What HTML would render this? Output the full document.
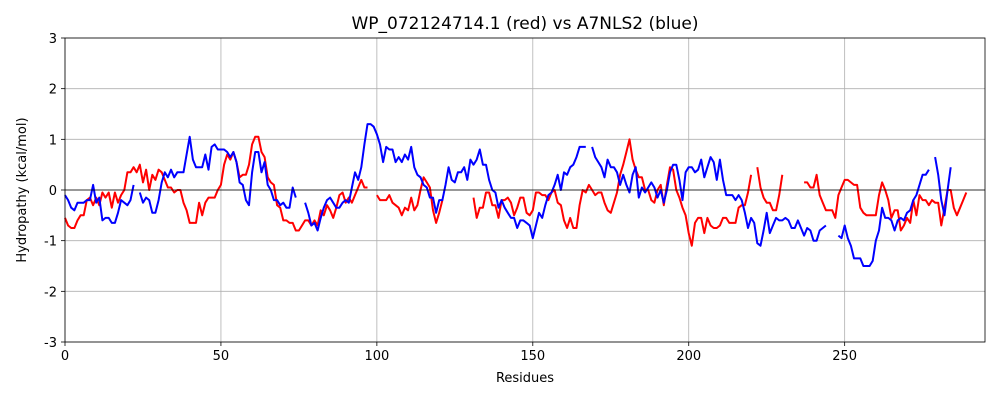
<!DOCTYPE html>
<html><head><meta charset="utf-8"><style>
html,body{margin:0;padding:0;background:#fff;}
svg{display:block;font-family:"DejaVu Sans","Liberation Sans",sans-serif;}
</style></head><body>
<svg id="chart" width="1000" height="400" viewBox="0 0 1000 400" xmlns="http://www.w3.org/2000/svg">
<text x="525" y="29" text-anchor="middle" font-size="17">WP_072124714.1 (red) vs A7NLS2 (blue)</text>
<text transform="translate(26,190) rotate(-90)" text-anchor="middle" font-size="13">Hydropathy (kcal/mol)</text>
<text x="525" y="382" text-anchor="middle" font-size="13">Residues</text>
<g id="grid"></g><g id="series"></g><g id="axes"></g>
</svg>
<script>
const xTicks=[0,50,100,150,200,250];
const yTicks=[-3,-2,-1,0,1,2,3];
const redValues=[-0.55,-0.7,-0.75,-0.75,-0.6,-0.5,-0.5,-0.2,-0.15,-0.3,-0.15,-0.3,-0.05,-0.15,-0.05,-0.35,-0.05,-0.25,-0.1,0,
0.35,0.35,0.45,0.35,0.5,0.15,0.4,0,0.3,0.2,0.4,0.35,0.2,0.05,0.05,-0.05,0,0,-0.25,-0.4,
-0.65,-0.65,-0.65,-0.25,-0.5,-0.25,-0.15,-0.15,-0.15,0,0.1,0.5,0.7,0.6,0.75,0.55,0.25,0.3,0.3,0.5,
0.9,1.05,1.05,0.75,0.65,0.25,0.15,0.1,-0.3,-0.35,-0.6,-0.6,-0.65,-0.65,-0.8,-0.8,-0.7,-0.6,-0.6,-0.7,
-0.6,-0.7,-0.4,-0.5,-0.3,-0.4,-0.55,-0.35,-0.1,-0.05,-0.25,-0.15,-0.25,-0.1,0.05,0.2,0.05,0.05,null,null,
-0.1,-0.2,-0.2,-0.2,-0.1,-0.25,-0.3,-0.35,-0.5,-0.35,-0.4,-0.15,-0.4,-0.3,0,0.25,0.15,0.05,-0.4,-0.65,
-0.45,-0.2,null,null,null,null,null,null,null,null,null,-0.15,-0.55,-0.35,-0.35,-0.05,-0.05,-0.3,-0.3,-0.55,
-0.2,-0.2,-0.15,-0.25,-0.5,-0.35,-0.15,-0.15,-0.45,-0.5,-0.4,-0.05,-0.05,-0.1,-0.1,-0.2,-0.05,0,-0.25,-0.3,
-0.6,-0.75,-0.55,-0.75,-0.75,-0.3,0,-0.05,0.1,0,-0.1,-0.05,-0.05,-0.25,-0.4,-0.45,-0.25,-0.05,0.3,0.5,
0.75,1.0,0.6,0.4,0.25,0.25,0,0,-0.2,-0.25,0,0.1,-0.3,0.1,0.45,0.4,0,-0.15,-0.35,-0.5,
-0.85,-1.1,-0.65,-0.55,-0.55,-0.85,-0.55,-0.7,-0.75,-0.75,-0.7,-0.55,-0.55,-0.65,-0.65,-0.65,-0.35,-0.3,-0.3,-0.05,
0.3,null,0.45,0.05,-0.15,-0.25,-0.25,-0.4,-0.4,-0.1,0.3,null,null,null,null,null,null,0.15,0.15,0.05,
0.05,0.3,-0.1,-0.25,-0.4,-0.4,-0.4,-0.55,-0.1,0.05,0.2,0.2,0.15,0.1,0.1,-0.35,-0.45,-0.5,-0.5,-0.5,
-0.5,-0.1,0.15,0,-0.2,-0.55,-0.4,-0.4,-0.8,-0.7,-0.55,-0.65,-0.2,-0.5,-0.1,-0.2,-0.2,-0.3,-0.2,-0.25,
-0.25,-0.7,-0.35,0,0,-0.35,-0.5,-0.35,-0.2,-0.05];
const blueValues=[-0.1,-0.2,-0.35,-0.4,-0.25,-0.25,-0.25,-0.2,-0.2,0.1,-0.25,-0.15,-0.6,-0.55,-0.55,-0.65,-0.65,-0.45,-0.2,-0.25,
-0.3,-0.2,0.1,null,-0.05,-0.25,-0.15,-0.2,-0.45,-0.45,-0.2,0.15,0.35,0.25,0.4,0.25,0.35,0.35,0.35,0.7,
1.05,0.6,0.45,0.45,0.45,0.7,0.4,0.85,0.9,0.8,0.8,0.8,0.75,0.65,0.75,0.55,0.15,0.1,-0.2,-0.3,
0.35,0.75,0.75,0.35,0.55,0.1,0,-0.2,-0.2,-0.3,-0.25,-0.35,-0.35,0.05,-0.15,null,null,-0.25,-0.45,-0.7,
-0.65,-0.8,-0.55,-0.35,-0.2,-0.15,-0.25,-0.35,-0.35,-0.25,-0.2,-0.25,0.05,0.35,0.2,0.45,0.9,1.3,1.3,1.25,
1.1,0.9,0.55,0.85,0.8,0.8,0.55,0.65,0.55,0.7,0.6,0.85,0.45,0.3,0.25,0.1,0.05,-0.15,-0.15,-0.45,
-0.2,-0.2,0.1,0.45,0.2,0.15,0.35,0.35,0.45,0.2,0.6,0.5,0.6,0.8,0.5,0.5,0.2,0,-0.05,-0.35,
-0.2,-0.35,-0.45,-0.55,-0.55,-0.75,-0.6,-0.6,-0.65,-0.7,-0.95,-0.7,-0.45,-0.55,-0.3,-0.1,-0.05,0.1,0.3,0,
0.35,0.3,0.45,0.5,0.65,0.85,0.85,0.85,null,0.85,0.65,0.55,0.45,0.25,0.6,0.45,0.45,0.35,0.1,0.3,
0.1,-0.05,0.3,0.45,-0.15,0.05,-0.05,0.05,0.15,0.05,-0.15,0,-0.25,0,0.35,0.5,0.5,0.2,-0.2,0.35,
0.45,0.45,0.35,0.4,0.6,0.25,0.45,0.65,0.55,0.2,0.6,0.2,-0.1,-0.1,-0.1,-0.2,-0.1,-0.2,-0.45,-0.75,
-0.55,-0.65,-1.05,-1.1,-0.8,-0.45,-0.85,-0.7,-0.55,-0.6,-0.6,-0.55,-0.6,-0.75,-0.75,-0.6,-0.75,-0.9,-0.75,-0.8,
-1.0,-1.0,-0.8,-0.75,-0.7,null,null,null,-0.9,-0.95,-0.7,-0.95,-1.1,-1.35,-1.35,-1.35,-1.5,-1.5,-1.5,-1.4,
-1.0,-0.8,-0.35,-0.55,-0.55,-0.6,-0.8,-0.6,-0.55,-0.6,-0.45,-0.4,-0.2,-0.1,0.1,0.3,0.3,0.4,null,0.65,
0.3,-0.2,-0.5,0,0.45];
const NS="http://www.w3.org/2000/svg";
const L=65,R=985,T=38,B=342,XMAX=295;
const sx=v=>L+(R-L)*v/XMAX;
const sy=v=>B-(B-T)*(v+3)/6;
function mk(tag,attrs,parent){const e=document.createElementNS(NS,tag);for(const k in attrs)e.setAttribute(k,attrs[k]);parent.appendChild(e);return e;}
const grid=document.getElementById('grid'),axes=document.getElementById('axes'),ser=document.getElementById('series');
xTicks.forEach(t=>{
 const g=mk('line',{x1:sx(t),x2:sx(t),y1:T,y2:B,stroke:'#b0b0b0','stroke-width':0.8},grid);
 
 
 mk('line',{x1:sx(t),x2:sx(t),y1:B,y2:B+4,stroke:'#000','stroke-width':0.8},axes);
 const lb=mk('text',{x:sx(t),y:B+18,'text-anchor':'middle','font-size':13},axes);
 lb.textContent=t;
 
 
});
yTicks.forEach(t=>{
 const g=mk('line',{x1:L,x2:R,y1:sy(t),y2:sy(t),stroke:'#b0b0b0','stroke-width':0.8},grid);
 
 
 mk('line',{x1:L-4,x2:L,y1:sy(t),y2:sy(t),stroke:'#000','stroke-width':0.8},axes);
 const lb=mk('text',{x:L-8,y:sy(t)+5,'text-anchor':'end','font-size':13},axes);
 lb.textContent=t;
 
 
});
function draw(vals,color,name){
 let d='',pen=false;
 vals.forEach((v,i)=>{if(v===null){pen=false;return;}d+=(pen?'L':'M')+sx(i).toFixed(1)+','+sy(v).toFixed(1);pen=true;});
 const p=mk('path',{d:d,fill:'none',stroke:color,'stroke-width':2,'stroke-linejoin':'round'},ser);
 
 
}
draw(redValues,'#ff0000','red-series-line');
draw(blueValues,'#0000ff','blue-series-line');
const z=mk('line',{x1:L,x2:R,y1:sy(0),y2:sy(0),stroke:'#000','stroke-width':0.8},axes);


const f=mk('rect',{x:L,y:T,width:R-L,height:B-T,fill:'none',stroke:'#000','stroke-width':0.8},axes);


</script>
</body></html>
